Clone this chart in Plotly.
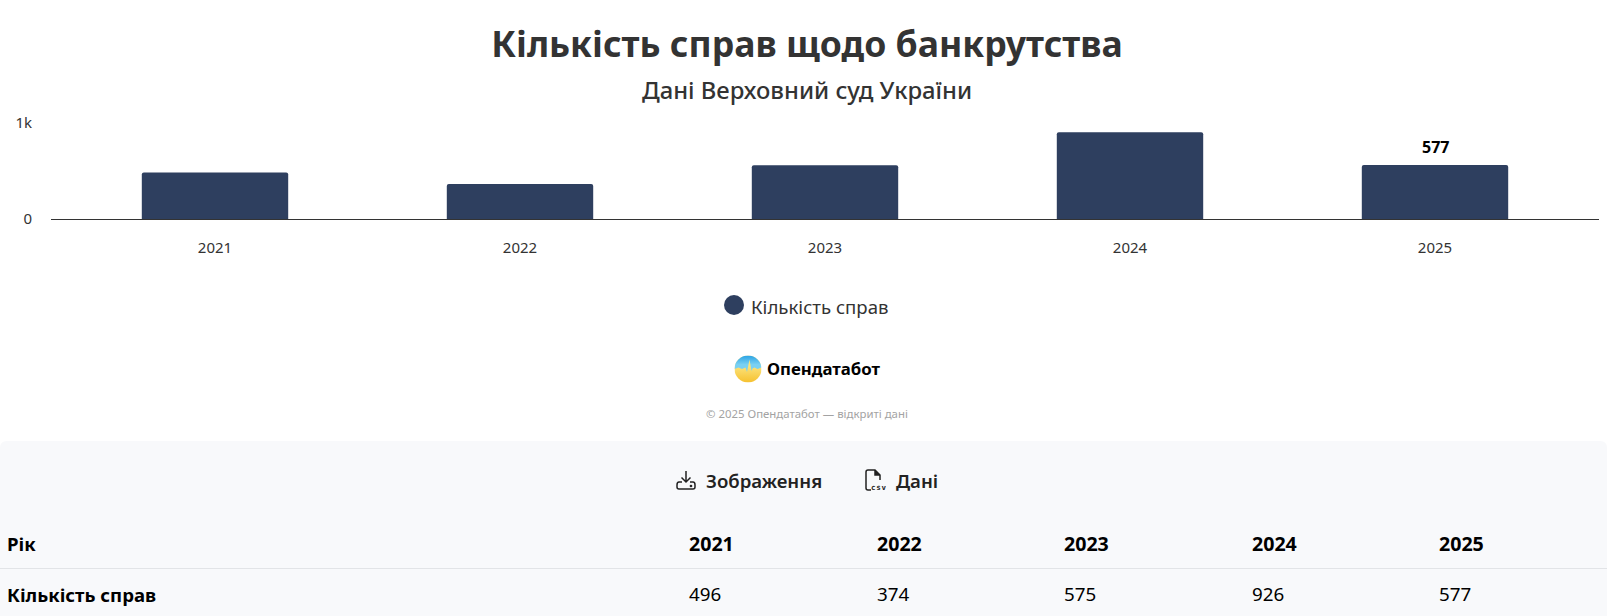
import base64
import plotly.graph_objects as go

years = ["2021", "2022", "2023", "2024", "2025"]
cases = [496, 374, 575, 926, 577]
y_ticks = [0, 1026]
y_tick_labels = ["0", "1k"]
TITLE = "Кількість справ щодо банкрутства"
SUBTITLE = "Дані Верховний суд України"
SERIES = "Кількість справ"
ROW_HEAD = "Рік"
COPY = "© 2025 Опендатабот — відкриті дані"
BRAND = "Опендатабот"

W, H = 1607, 616
L, R, T, B = 51, 1599, 123, 219
FONT = "Noto Sans"
NAVY = "#2e3f5f"
TXT = "#333333"


def px(x):
    return (x - L) / (R - L)


def py(y):
    return (B - y) / (B - T)


def svg_uri(s):
    return "data:image/svg+xml;base64," + base64.b64encode(s.encode()).decode()


def note(x, y, text, size, color=TXT, weight=400, anchor="center"):
    return dict(x=px(x), y=py(y), xref="paper", yref="paper", text=text, showarrow=False,
                xanchor=anchor, yanchor="middle", xshift=0, borderpad=0,
                font=dict(family=FONT, size=size, color=color, weight=weight))


logo_svg = """<svg xmlns='http://www.w3.org/2000/svg' width='54' height='54' viewBox='0 0 54 54'>
<defs><clipPath id='c'><circle cx='27' cy='27' r='27'/></clipPath>
<linearGradient id='b' x1='0' y1='0' x2='0' y2='1'><stop offset='0' stop-color='#2aa3e6'/><stop offset='.55' stop-color='#7ad0f2'/></linearGradient>
<linearGradient id='y' x1='0' y1='0' x2='0' y2='1'><stop offset='.4' stop-color='#fbe27a'/><stop offset='1' stop-color='#f6c12f'/></linearGradient></defs>
<g clip-path='url(#c)'><rect width='54' height='54' fill='url(#y)'/>
<path d='M0 0H54V24L46 27L40 24L36 26L34 31L30 8L25 33L22 24L15 27L8 24L0 27Z' fill='url(#b)'/></g></svg>"""

dl_svg = """<svg xmlns='http://www.w3.org/2000/svg' width='20' height='20' viewBox='0 0 20 20' fill='none' stroke='#222' stroke-width='1.5'>
<path d='M10 1V12M5.5 7.5L10 12L14.5 7.5'/><path d='M6 12H3Q1 12 1 15V17Q1 19 3 19H17Q19 19 19 17V15Q19 12 17 12H14'/>
<circle cx='15' cy='16' r='.6' fill='#222'/></svg>"""

csv_svg = """<svg xmlns='http://www.w3.org/2000/svg' width='21' height='22' viewBox='0 0 21 22' fill='none' stroke='#222' stroke-width='1.5'>
<path d='M6 21H3Q1 21 1 19V3Q1 1 3 1H10L15 6V11'/><path d='M10 1V6H15' fill='#222'/>
<text x='6' y='20.5' font-family='DejaVu Sans Mono' font-size='7.5' font-weight='700' fill='#222' stroke='none' textLength='15'>csv</text></svg>"""

fig = go.Figure()
fig.add_bar(x=list(range(len(years))), y=cases, width=0.48, marker=dict(color=NAVY, line_width=0, cornerradius=2),
            name=SERIES, showlegend=False, hovertemplate="%{y}<extra></extra>")

HEAD_Y, ROW_Y = 543.5, 594
annotations = [
    note(807, 90, SUBTITLE, 23.8, weight=500),
    note(749.5, 306, SERIES, 18.6, anchor="left"),
    note(765.5, 368.5, BRAND, 16.8, color="#000000", weight=700, anchor="left"),
    note(807, 413.5, COPY, 11.4, color="#a3a3a3"),
    note(705, 480, "Зображення", 18.6, color="#222222", weight=600, anchor="left"),
    note(895, 480, "Дані", 18.6, color="#222222", weight=600, anchor="left"),
    note(5.5, HEAD_Y, ROW_HEAD, 18.6, color="#000000", weight=700, anchor="left"),
    note(5.5, ROW_Y, SERIES, 18.6, color="#000000", weight=700, anchor="left"),
    dict(x=4, y=cases[4], xref="x", yref="y", text=str(cases[4]), showarrow=False, yanchor="bottom",
         yshift=5, font=dict(family=FONT, size=16, color="#000000", weight=700)),
]
for i, (yr, val) in enumerate(zip(years, cases)):
    cx = 688 + 187.5 * i
    annotations.append(note(cx, HEAD_Y, yr, 19.6, color="#000000", weight=700, anchor="left"))
    annotations.append(note(cx, ROW_Y, str(val), 18.8, color="#000000", anchor="left"))

panel = (f"M {px(0)} {py(616)} L {px(0)} {py(448)} Q {px(0)} {py(441)} {px(7)} {py(441)} "
         f"L {px(1600)} {py(441)} Q {px(1607)} {py(441)} {px(1607)} {py(448)} L {px(1607)} {py(616)} Z")

shapes = [
    dict(type="path", xref="paper", yref="paper", path=panel, fillcolor="#f8f9fb", line_width=0, layer="below"),
    dict(type="line", xref="paper", yref="paper", x0=px(0), x1=px(1607), y0=py(568.5), y1=py(568.5),
         line=dict(color="#e2e4e7", width=1)),
    dict(type="circle", xref="paper", yref="paper", x0=px(724), x1=px(744), y0=py(295), y1=py(315),
         fillcolor=NAVY, line_width=0),
]


def image(uri, x0, y0, w, h):
    return dict(source=uri, xref="paper", yref="paper", x=px(x0), y=py(y0), sizex=w / (R - L), sizey=h / (B - T),
                xanchor="left", yanchor="top", sizing="stretch", layer="above")


images = [image(svg_uri(logo_svg), 734.5, 355.5, 27, 27),
          image(svg_uri(dl_svg), 676, 470, 20, 20),
          image(svg_uri(csv_svg), 865, 469, 21, 22)]

fig.update_layout(
    width=W, height=H, autosize=False, paper_bgcolor="#ffffff", plot_bgcolor="#ffffff",
    margin=dict(l=L, r=W - R, t=T, b=H - B, pad=0),
    title=dict(text=TITLE, x=px(807), xref="paper", xanchor="center", y=1 - 45 / H, yref="container", yanchor="middle",
               font=dict(family=FONT, size=35.6, color=TXT, weight=700)),
    showlegend=False, annotations=annotations, shapes=shapes, images=images,
    xaxis=dict(tickmode="array", tickvals=list(range(len(years))), ticktext=years,
               range=[(L - 215) / 305, (R - 215) / 305], showgrid=False, zeroline=False,
               showline=True, linecolor="#333333", linewidth=1, ticks="", ticklabelstandoff=15,
               tickfont=dict(family=FONT, size=15, color=TXT)),
    yaxis=dict(tickmode="array", tickvals=y_ticks, ticktext=y_tick_labels, range=[0, 1026],
               showgrid=True, gridcolor="#e6e6e6", gridwidth=1, zeroline=False, showline=False, ticks="",
               ticklabelstandoff=18, tickfont=dict(family=FONT, size=15, color=TXT)),
)

fig.write_html("out.html", config={"displayModeBar": False},
               post_script="document.body.style.margin='0';document.documentElement.style.overflow='hidden';")
